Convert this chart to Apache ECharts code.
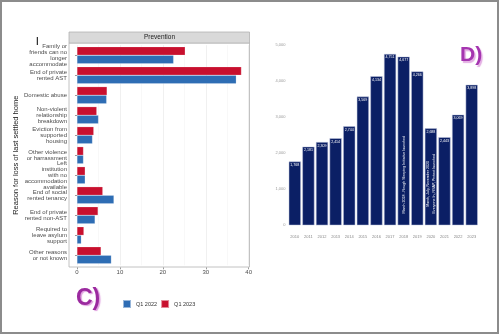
<!DOCTYPE html>
<html><head><meta charset="utf-8">
<script src="https://cdn.jsdelivr.net/npm/echarts@6/dist/echarts.min.js"></script>
<style>html,body{margin:0;padding:0;background:#fff}#c{width:500px;height:335px}</style>
</head><body><div id="c"></div>
<script>
// ---- Panel C data ----
const reasons = [
  "Family or\nfriends can no\nlonger\naccommodate",
  "End of private\nrented AST",
  "Domestic abuse",
  "Non-violent\nrelationship\nbreakdown",
  "Eviction from\nsupported\nhousing",
  "Other violence\nor harrassment",
  "Left\ninstitution\nwith no\naccommodation\navailable",
  "End of social\nrented tenancy",
  "End of private\nrented non-AST",
  "Required to\nleave asylum\nsupport",
  "Other reasons\nor not known"
];
const q1_2022 = [22.5, 37.1, 6.9, 5.0, 3.6, 1.5, 1.9, 8.6, 4.2, 1.0, 8.0];
const q1_2023 = [25.2, 38.3, 7.0, 4.6, 3.9, 1.5, 1.9, 6.0, 4.9, 1.6, 5.6];
const seriesNames = ["Q1 2022", "Q1 2023"];
const xTicksC = [0, 10, 20, 30, 40];

// ---- Panel D data ----
const years = ["2010","2011","2012","2013","2014","2015","2016","2017","2018","2019","2020","2021","2022","2023"];
const roughSleepers = [1768, 2181, 2309, 2414, 2744, 3569, 4134, 4751, 4677, 4266, 2688, 2443, 3069, 3898];
const yTicksD = [0, 1000, 2000, 3000, 4000, 5000];
const annotationYears = ["2018", "2020"];
const annotationTexts = [
  "March 2018 - Rough Sleeping Initiative launched",
  "March, July, November 2020\nEveryone In, RSAP, Protect launched"
];

const fmt = v => String(v).replace(/\B(?=(\d{3})+(?!\d))/g, ",");
const FONT = "Liberation Sans";

const chart = echarts.init(document.getElementById('c'), null, {renderer: 'canvas'});
const option = {
  animation: false,
  backgroundColor: '#fff',
  textStyle: {fontFamily: FONT},
  legend: {
    data: seriesNames, left: 122, top: 299, padding: 0,
    itemWidth: 8, itemHeight: 8, itemGap: 3, icon: 'rect',
    textStyle: {fontSize: 5.5, color: '#333', fontFamily: FONT}
  },
  grid: [
    {left: 77, top: 45.2, width: 171.7, height: 220.1},
    {left: 288, top: 45, width: 190.5, height: 180.3}
  ],
  xAxis: [
    {gridIndex: 0, type: 'value', min: xTicksC[0], max: xTicksC[xTicksC.length - 1], interval: 10, offset: 2,
     axisLine: {show: false},
     axisTick: {show: true, length: 2, lineStyle: {color: '#555', width: 0.6}},
     axisLabel: {fontSize: 6, color: '#4d4d4d', margin: 2},
     splitLine: {show: true, lineStyle: {color: '#e6e6e6', width: 0.6}},
     minorTick: {show: false, splitNumber: 2},
     minorSplitLine: {show: true, lineStyle: {color: '#f0f0f0', width: 0.5}}},
    {gridIndex: 1, type: 'category', data: years,
     axisLine: {show: false}, axisTick: {show: false},
     axisLabel: {fontSize: 4, color: '#888', margin: 10, interval: 0}}
  ],
  yAxis: [
    {gridIndex: 0, type: 'category', data: reasons, inverse: true, offset: 8,
     axisLine: {show: false},
     axisTick: {show: true, alignWithLabel: true, length: 2, lineStyle: {color: '#555', width: 0.6}},
     axisLabel: {fontSize: 6, lineHeight: 6.2, color: '#4d4d4d', margin: 2, interval: 0},
     name: 'Reason for loss of last settled home', nameLocation: 'middle', nameRotate: 90, nameGap: 42,
     nameTextStyle: {fontSize: 7.5, color: '#1a1a1a'}},
    {gridIndex: 1, type: 'value', min: yTicksD[0], max: yTicksD[yTicksD.length - 1], interval: 1000,
     axisLine: {show: false}, axisTick: {show: false},
     axisLabel: {fontSize: 4, color: '#999', margin: 2.5, formatter: fmt},
     splitLine: {show: false}}
  ],
  series: [
    {type: 'bar', name: seriesNames[1], xAxisIndex: 0, yAxisIndex: 0, data: q1_2023,
     barGap: '0%', barCategoryGap: '15%',
     itemStyle: {color: '#c8102e', borderColor: 'rgba(255,255,255,0.5)', borderWidth: 0.4}},
    {type: 'bar', name: seriesNames[0], xAxisIndex: 0, yAxisIndex: 0, data: q1_2022,
     barGap: '0%', barCategoryGap: '15%',
     itemStyle: {color: '#2e6db4', borderColor: 'rgba(255,255,255,0.5)', borderWidth: 0.4}},
    {type: 'bar', name: 'Rough sleeping', xAxisIndex: 1, yAxisIndex: 1, data: roughSleepers,
     barCategoryGap: '11%',
     itemStyle: {color: '#0b1f65', borderColor: '#c5cbe0', borderWidth: 0.5},
     label: {show: true, position: 'insideTop', distance: 1.5, fontSize: 3.6, color: '#fff', formatter: p => fmt(p.value)},
     markPoint: {
       symbol: 'rect', symbolSize: 0, silent: true,
       label: {show: true, position: 'inside', rotate: 90, fontSize: 3.6, lineHeight: 5.5, color: '#fff'},
       data: [
         {coord: [annotationYears[0], 1400], value: annotationTexts[0], label: {formatter: annotationTexts[0]}},
         {coord: [annotationYears[1], 1150], value: annotationTexts[1], label: {formatter: annotationTexts[1]}}
       ]
     }}
  ],
  graphic: [
    {type: 'rect', shape: {x: 1, y: 1, width: 497, height: 332}, style: {fill: 'none', stroke: '#8c8c8c', lineWidth: 2}, z: 100},
    {type: 'rect', shape: {x: 69, y: 43, width: 180.5, height: 224}, style: {fill: 'none', stroke: '#b3b3b3', lineWidth: 0.8}, z: 100},
    {type: 'rect', shape: {x: 69, y: 32, width: 180.5, height: 11}, style: {fill: '#d9d9d9', stroke: '#b3b3b3', lineWidth: 0.8}, z: 100},
    {type: 'text', x: 159.5, y: 37.7, style: {text: 'Prevention', fontSize: 6.5, fill: '#1a1a1a', align: 'center', verticalAlign: 'middle', fontFamily: FONT}, z: 101},
    {type: 'line', shape: {x1: 37.3, y1: 37, x2: 37.3, y2: 45}, style: {stroke: '#000', lineWidth: 1}, z: 100},
    {type: 'text', x: 76, y: 298.5, style: {text: 'C)', fontSize: 23, fontWeight: 'bold', fill: '#9b2a9f', verticalAlign: 'middle', fontFamily: FONT,
      textShadowColor: 'rgba(210,120,210,0.7)', textShadowOffsetX: 1.5, textShadowOffsetY: 1.5, textShadowBlur: 1}, z: 100},
    {type: 'text', x: 460, y: 55.5, style: {text: 'D)', fontSize: 21, fontWeight: 'bold', fill: '#a535b0', verticalAlign: 'middle', fontFamily: FONT,
      textShadowColor: 'rgba(215,140,215,0.7)', textShadowOffsetX: 1.5, textShadowOffsetY: 1.5, textShadowBlur: 1}, z: 100}
  ]
};
chart.setOption(option);
</script></body></html>
